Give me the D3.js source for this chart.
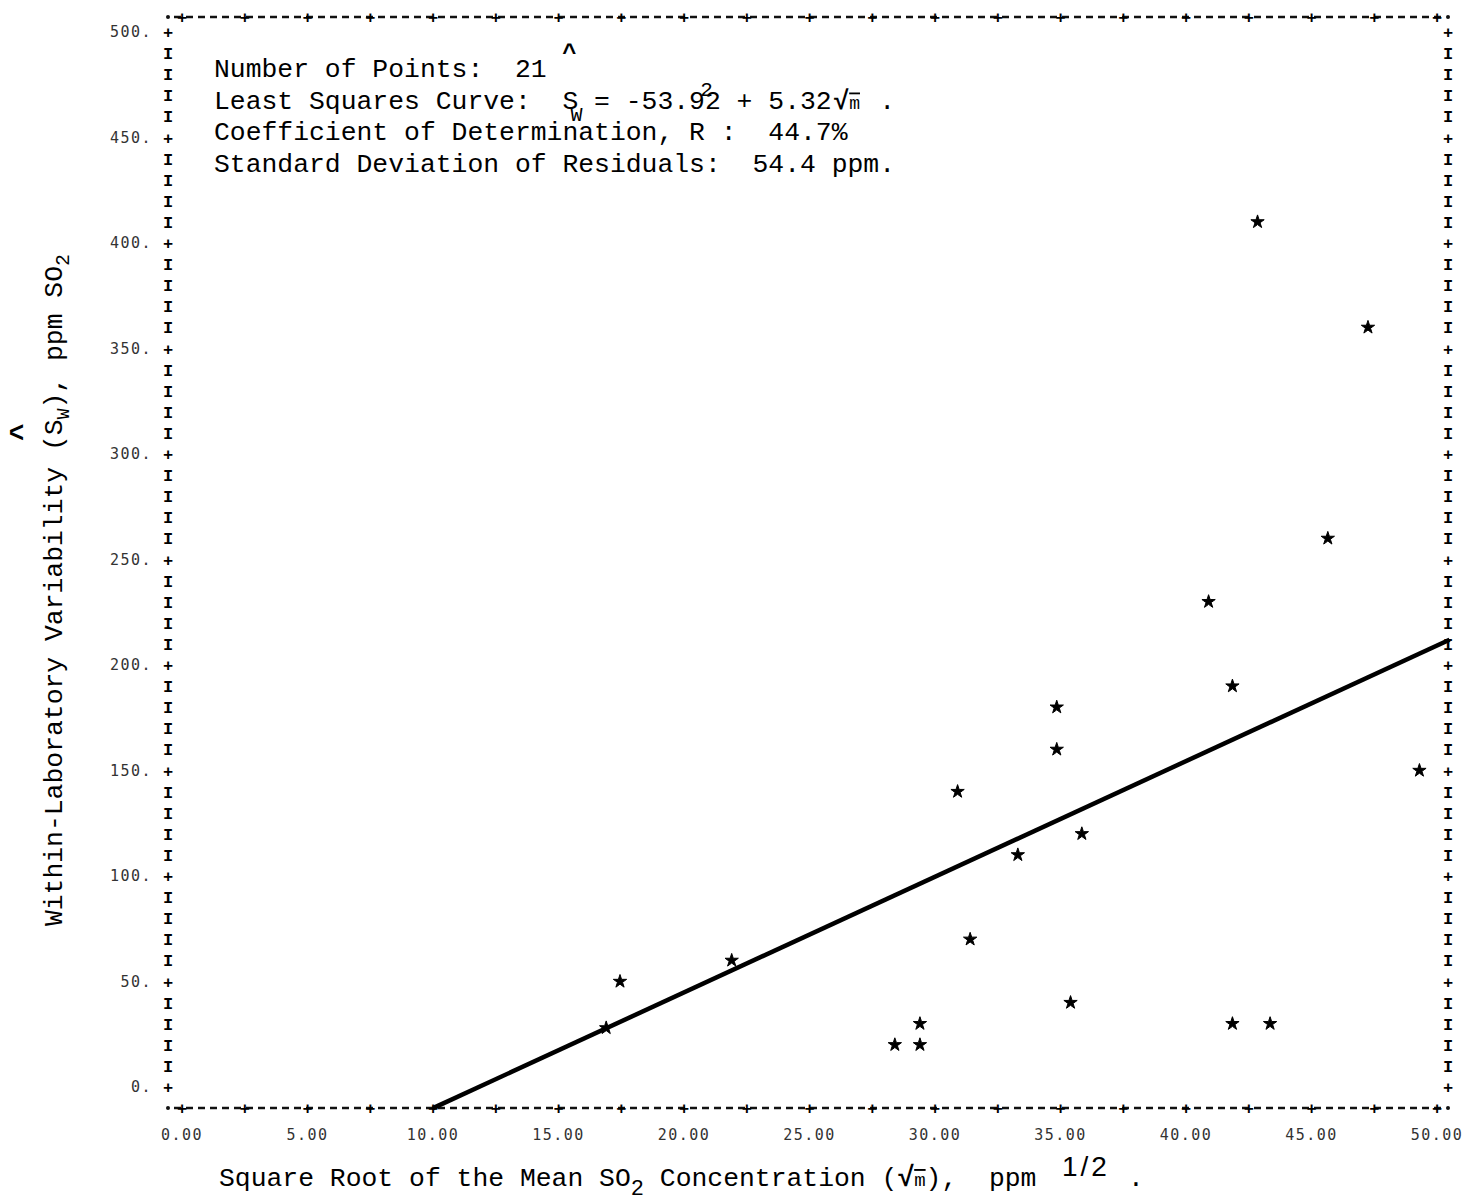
<!DOCTYPE html>
<html>
<head>
<meta charset="utf-8">
<script src="https://cdn.jsdelivr.net/npm/d3@7"></script>
<style>
  body { margin: 0; background: #fff; }
  svg { display: block; }
  .mono { font-family: "Liberation Mono", "DejaVu Sans Mono", monospace; }
  .dot { font-family: "DejaVu Sans Mono", monospace; }
</style>
</head>
<body>
<svg id="chart" width="1465" height="1203"></svg>
<script>
// values
const rootMean = [16.9, 17.45, 21.9, 28.4, 29.4, 29.4, 30.9, 31.4, 33.3, 34.85, 34.85,
                  35.4, 35.85, 40.9, 41.85, 41.85, 42.85, 43.35, 45.65, 47.25, 49.3];
const withinSd = [28, 50, 60, 20, 30, 20, 140, 70, 110, 180, 160,
                  40, 120, 230, 190, 30, 410, 30, 260, 360, 150];
const fitLineX = [10, 50.5];
const fitLineY = [-10, 212];
const xTicks = [0, 5, 10, 15, 20, 25, 30, 35, 40, 45, 50];
const yTicks = [0, 50, 100, 150, 200, 250, 300, 350, 400, 450, 500];
const statLines = [
  "Number of Points:  21",
  "Least Squares Curve:  S = -53.92 + 5.32",
  "Coefficient of Determination, R :  44.7%",
  "Standard Deviation of Residuals:  54.4 ppm."
];

const svg = d3.select("#chart");
const x = d3.scaleLinear().domain([0, 50]).range([182, 1437]);
const y = d3.scaleLinear().domain([0, 500]).range([1087, 32]);

const frameL = 168, frameR = 1448, frameT = 17, frameB = 1108;
const cw = 15.84; // one typewriter column

// dashed top and bottom borders, like a line printer
[frameT, frameB].forEach(yy => {
  svg.append("line")
    .attr("x1", frameL + 6).attr("x2", frameR - 6)
    .attr("y1", yy).attr("y2", yy)
    .attr("stroke", "#111").attr("stroke-width", 2.4)
    .attr("stroke-dasharray", "7,5");
  svg.selectAll(null)
    .data(d3.range(0, 50.01, 2.5))
    .join("text")
    .attr("class", "mono")
    .attr("x", d => x(d)).attr("y", yy + 6)
    .attr("text-anchor", "middle")
    .attr("font-size", 17).attr("font-weight", "bold")
    .text("+");
});

// corner dots
[[frameL, frameT], [frameR, frameT], [frameL, frameB], [frameR, frameB]].forEach(c => {
  svg.append("circle").attr("cx", c[0]).attr("cy", c[1]).attr("r", 2).attr("fill", "#111");
});

// vertical borders made of I and + characters
const rows = d3.range(0, 501, 10);
[frameL, frameR].forEach(xx => {
  svg.selectAll(null)
    .data(rows)
    .join("text")
    .attr("class", "mono")
    .attr("x", xx).attr("y", d => y(d) + 6)
    .attr("text-anchor", "middle")
    .attr("font-size", 17).attr("font-weight", "bold")
    .text(d => d % 50 == 0 ? "+" : "I");
});

// tick labels
svg.selectAll(null)
  .data(yTicks)
  .join("text")
  .attr("class", "dot")
  .attr("x", 152).attr("y", d => y(d) + 5)
  .attr("text-anchor", "end")
  .attr("font-size", 15).attr("letter-spacing", 1.5)
  .attr("fill", "#333")
  .text(d => d + ".");

svg.selectAll(null)
  .data(xTicks)
  .join("text")
  .attr("class", "dot")
  .attr("x", d => x(d)).attr("y", 1140)
  .attr("text-anchor", "middle")
  .attr("font-size", 15).attr("letter-spacing", 1.5)
  .attr("fill", "#333")
  .text(d => d3.format(".2f")(d));

// fitted line
svg.append("path")
  .datum(d3.zip(fitLineX, fitLineY))
  .attr("d", d3.line().x(d => x(d[0])).y(d => y(d[1])))
  .attr("stroke", "#000").attr("stroke-width", 4.5)
  .attr("fill", "none");

// points
svg.selectAll(null)
  .data(d3.zip(rootMean, withinSd))
  .join("path")
  .attr("transform", d => `translate(${x(d[0])},${y(d[1])})`)
  .attr("d", d3.symbol(d3.symbolStar).size(55))
  .attr("fill", "#000").attr("stroke", "#000").attr("stroke-width", 1);

// statistics block
const tx = 214;
svg.selectAll(null)
  .data(statLines)
  .join("text")
  .attr("class", "mono")
  .attr("x", tx).attr("y", (d, i) => 77 + i * 31.5)
  .attr("font-size", 26.4)
  .style("white-space", "pre")
  .text(d => d);

// extra marks of the equation (hat, subscript, superscript, root)
const eq = svg.append("g").attr("class", "mono").attr("font-size", 26.4);
eq.append("text").attr("x", tx + 22 * cw + 7).attr("y", 60).attr("text-anchor", "middle")
  .attr("font-size", 24).attr("font-weight", "bold").text("^");
eq.append("text").attr("x", tx + 22.5 * cw).attr("y", 121).attr("font-size", 20).text("W");
eq.append("text").attr("x", tx + 30.7 * cw).attr("y", 96).attr("font-size", 21).text("2");
eq.append("text").attr("x", tx + 39.1 * cw).attr("y", 108.5).attr("font-weight", "bold").text("√");
eq.append("text").attr("x", tx + 40.1 * cw).attr("y", 108.5).attr("font-size", 18)
  .attr("text-decoration", "overline").text("m");
eq.append("text").attr("x", tx + 42 * cw).attr("y", 108.5).text(".");

// x axis title
const xt = svg.append("text").attr("class", "mono")
  .attr("x", 219).attr("y", 1186).attr("font-size", 26.4)
  .style("white-space", "pre");
xt.append("tspan").text("Square Root of the Mean SO");
xt.append("tspan").attr("dy", 9).attr("font-size", 22).text("2");
xt.append("tspan").attr("dy", -9).text(" Concentration (");
xt.append("tspan").attr("font-weight", "bold").attr("font-size", 28).text("√");
xt.append("tspan").attr("font-size", 19).attr("text-decoration", "overline").text("m");
xt.append("tspan").text("),  ppm");
svg.append("text")
  .attr("x", 1062).attr("y", 1176)
  .attr("font-family", "Liberation Sans, Arial, sans-serif")
  .attr("font-size", 28).attr("letter-spacing", 3).text("1/2");
svg.append("text").attr("class", "mono")
  .attr("x", 1128).attr("y", 1186).attr("font-size", 26.4).text(".");

// y axis title
const yt = svg.append("text").attr("class", "mono")
  .attr("transform", "translate(62,590) rotate(-90)")
  .attr("text-anchor", "middle")
  .attr("font-size", 26.4)
  .style("white-space", "pre");
yt.append("tspan").text("Within-Laboratory Variability (S");
yt.append("tspan").attr("dy", 7).attr("font-size", 18).text("W");
yt.append("tspan").attr("dy", -7).text("), ppm SO");
yt.append("tspan").attr("dy", 7).attr("font-size", 20).text("2");
svg.append("text").attr("class", "mono")
  .attr("transform", "translate(30,432) rotate(-90)")
  .attr("text-anchor", "middle")
  .attr("font-size", 30).attr("font-weight", "bold")
  .text("^");
</script>
</body>
</html>
